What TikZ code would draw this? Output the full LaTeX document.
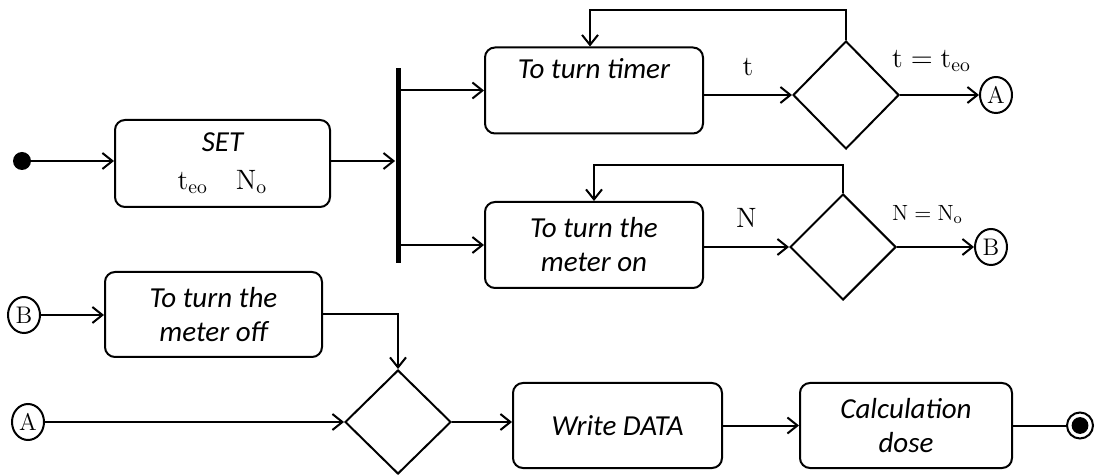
\documentclass[tikz,border=0pt]{standalone}
\usepackage{fontspec}
\newfontfamily\boxfont{Carlito}
\usetikzlibrary{shapes.geometric,arrows.meta}
\tikzset{
  act/.style={draw, line width=1pt, rounded corners=5pt, align=center,
    font=\boxfont\itshape\fontsize{14.5}{17}\selectfont, inner sep=0pt},
  dec/.style={draw, diamond, line width=1pt, inner sep=0pt},
  conn/.style={draw, ellipse, line width=1pt, inner sep=0pt,
    minimum width=16pt, minimum height=18pt, font=\fontsize{12}{13}\selectfont},
  flow/.style={line width=1pt, -{Straight Barb[length=5pt,width=8pt,line width=1pt]}},
  plain/.style={line width=1pt},
  lbl/.style={inner sep=0pt}
}
\begin{document}
\begin{tikzpicture}[x=0.5pt,y=-0.5pt]
  \useasboundingbox (0,0) rectangle (1097,475);

  % start and end states
  \node[circle, fill=black, minimum size=9pt, inner sep=0pt] (init) at (22,161) {};
  \node[circle, draw, line width=1pt, minimum size=13pt, inner sep=0pt] (final) at (1080,425.5) {};
  \fill (final) circle (4.2pt);

  % activities
  \node[act, minimum width=107.5pt, minimum height=43.5pt] (set) at (222.5,163.5)
    {SET\\[2pt]{\normalfont\upshape\fontsize{14}{16}\selectfont $\mathrm{t}_{\mathrm{eo}}\quad\mathrm{N}_{\mathrm{o}}$}};
  \node[act, minimum width=109pt, minimum height=43pt] (timer) at (594,90.5)
    {To turn timer\\ \strut};
  \node[act, minimum width=109pt, minimum height=43pt] (meteron) at (594,245)
    {To turn the\\meter on};
  \node[act, minimum width=108.5pt, minimum height=42.5pt] (meteroff) at (213.5,314.5)
    {To turn the\\meter off};
  \node[act, minimum width=104.5pt, minimum height=42.5pt] (write) at (617.5,425.5)
    {Write DATA};
  \node[act, minimum width=106pt, minimum height=42.5pt] (calc) at (906,425.5)
    {Calculation\\dose};

  % fork bar
  \node[fill=black, minimum width=2.5pt, minimum height=97.5pt, inner sep=0pt] (bar) at (398,165.5) {};

  % decisions
  \node[dec, minimum width=53pt, minimum height=54pt] (d1) at (846,95) {};
  \node[dec, minimum width=53pt, minimum height=53pt] (d2) at (843,247) {};
  \node[dec, minimum width=53pt, minimum height=52pt] (d3) at (398,422) {};

  % connectors
  \node[conn] (A1) at (996,95) {A};
  \node[conn] (B1) at (991,247) {B};
  \node[conn] (B2) at (24,315) {B};
  \node[conn] (A2) at (28,422) {A};

  % flows
  \draw[flow] (init) -- (set.west |- init);
  \draw[flow] (set.east |- init) -- (bar.west |- init);
  \draw[flow] (bar.east |- timer) -- (timer.west);
  \draw[flow] (bar.east |- meteron) -- (meteron.west);
  \draw[flow] (timer.east |- d1.west) -- node[lbl, above=9pt, font=\fontsize{14}{16}\selectfont] {$\mathrm{t}$} (d1.west);
  \draw[flow] (meteron.east |- d2.west) -- node[lbl, above=9pt, font=\fontsize{14}{16}\selectfont] {$\mathrm{N}$} (d2.west);
  \draw[flow] (d1.east) -- node[lbl, above=11pt, xshift=-4pt, font=\fontsize{14}{16}\selectfont] {$\mathrm{t}=\mathrm{t}_{\mathrm{eo}}$} (A1.west);
  \draw[flow] (d2.east) -- node[lbl, above=11pt, xshift=-4pt, font=\fontsize{11}{12}\selectfont] {$\mathrm{N}=\mathrm{N}_{\mathrm{o}}$} (B1.west);
  \draw[flow] (d1.north) -- ++(0,-30) -| ([xshift=-2pt]timer.north);
  \draw[flow] (d2.north) -- ++(0,-28) -| (meteron.north);
  \draw[flow] (B2.east) -- (meteroff.west |- B2);
  \draw[flow] (meteroff.east) -| (d3.north);
  \draw[flow] (A2.east) -- (d3.west);
  \draw[flow] (d3.east) -- (write.west |- d3.east);
  \draw[flow] (write.east) -- (calc.west);
  \draw[plain] (calc.east) -- (final.west);
\end{tikzpicture}
\end{document}
